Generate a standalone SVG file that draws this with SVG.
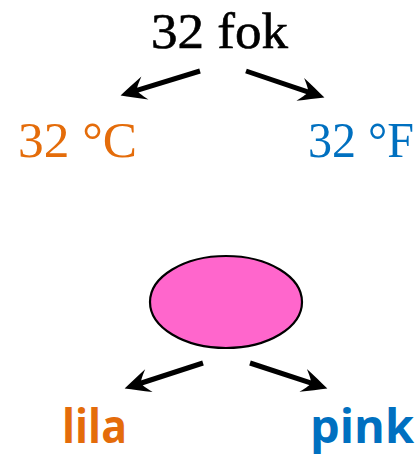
<svg xmlns="http://www.w3.org/2000/svg" width="419" height="455" viewBox="0 0 419 455">
<style>
.serif{font-family:"Liberation Serif","DejaVu Serif",serif}
.sans{font-family:"Open Sans","Noto Sans",sans-serif;font-weight:700}
.org{fill:#e46c0a}
.blu{fill:#0070c0}
.arr{stroke:#000;stroke-width:5;fill:none}
</style>
<defs>
<marker id="ah" viewBox="-26 -14 28 28" refX="-13" refY="0" markerWidth="28" markerHeight="28" markerUnits="userSpaceOnUse" orient="auto" overflow="visible">
<path d="M1.5,0 C-6,-3.5 -15,-8 -24,-12 C-18,-5 -16,-2 -16,0 C-16,2 -18,5 -24,12 C-15,8 -6,3.5 1.5,0 Z" fill="#000"/>
</marker>
</defs>
<rect width="419" height="455" fill="#fff"/>
<g id="node-fok"><text class="serif" x="151" y="48" font-size="50" textLength="137" lengthAdjust="spacingAndGlyphs" stroke="#000" stroke-width="0.6">32 fok</text></g>
<g id="node-c"><text class="serif org" x="18" y="157" font-size="50" textLength="119" lengthAdjust="spacingAndGlyphs">32 °C</text></g>
<g id="node-f"><text class="serif blu" x="308" y="157" font-size="50" textLength="106" lengthAdjust="spacingAndGlyphs">32 °F</text></g>
<g id="node-ellipse"><ellipse cx="226" cy="302" rx="76" ry="46" fill="#ff66cc" stroke="#000" stroke-width="2.2"/></g>
<g id="node-lila"><text class="sans org" x="62" y="443" font-size="46" textLength="65" lengthAdjust="spacingAndGlyphs">lila</text></g>
<g id="node-pink"><text class="sans blu" x="310" y="443" font-size="46" textLength="104" lengthAdjust="spacingAndGlyphs">pink</text></g>
<g id="connectors">
<path class="arr" d="M200,71 L134.4,91.2" marker-end="url(#ah)"/>
<path class="arr" d="M246,71 L310.7,92.8" marker-end="url(#ah)"/>
<path class="arr" d="M203,363 L138.4,384" marker-end="url(#ah)"/>
<path class="arr" d="M250,363 L313.6,383.9" marker-end="url(#ah)"/>
</g>
</svg>
